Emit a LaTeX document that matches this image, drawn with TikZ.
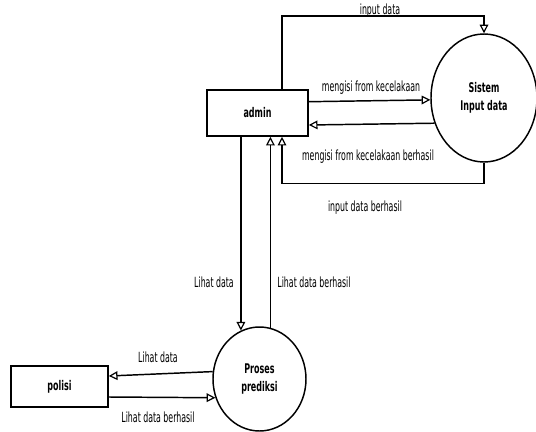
\documentclass[tikz,border=0pt]{standalone}
\usepackage{fontspec}
\setmainfont{DejaVu Sans}[FakeStretch=0.56,BoldFeatures={FakeStretch=0.6}]
\usetikzlibrary{arrows.meta,shapes.geometric,calc}
\begin{document}
\begin{tikzpicture}[x=0.75pt,y=-0.75pt,
  arr/.style={draw,line width=1.1pt,-{Triangle[open,length=6.5pt,width=6.5pt,line width=0.9pt]}},
  ent/.style={draw,line width=1.2pt,rectangle,font=\bfseries\fontsize{10}{13.5}\selectfont,inner sep=0pt},
  proc/.style={draw,line width=1.1pt,ellipse,font=\bfseries\fontsize{10}{13.5}\selectfont,align=center,inner sep=0pt},
  lbl/.style={font=\fontsize{10.5}{12}\selectfont,inner sep=0pt}]
\useasboundingbox (0,0) rectangle (536,432);
\node[ent,minimum width=75.75pt,minimum height=34.5pt] (admin) at (257.5,113) {admin};
\node[ent,minimum width=72.75pt,minimum height=30.75pt] (pol) at (59.5,386.5) {polisi};
\node[proc,minimum width=79.5pt,minimum height=96pt] (sis) at (484,98) {Sistem\\Input data};
\node[proc,minimum width=69.75pt,minimum height=78pt] (pro) at (259.5,379) {Proses\\prediksi};
% top loop
\draw[arr] ($(admin.north)+(24.5,0)$) -- ++(0,-73) -| (sis.north);
% mengisi
\draw[arr] ($(admin.east)+(0,-11.3)$) -- (sis.182);
\draw[arr] (sis.207) -- ($(admin.east)+(0,12)$);
% bottom loop
\draw[arr] (sis.south) -- ++(0,21) -| ($(admin.south)+(24.5,0)$);
% vertical
\draw[arr] (pro.111 |- admin.south) -- (pro.111);
\draw[arr] (pro.78) -- (pro.78 |- admin.south);
% polisi
\draw[arr] (pro.171) -- ($(pol.east)+(0,-10.5)$);
\draw[arr] ($(pol.east)+(0,10.5)$) -- (pro.203.7);
% labels
\node[lbl] (l1) at (380,11) {input data};
\node[lbl] (l2) at (371,88) {mengisi from kecelakaan};
\node[lbl] (l3) at (368,157) {mengisi from kecelakaan berhasil};
\node[lbl] (l4) at (365,208) {input data berhasil};
\node[lbl] (l5) at (214,282) {Lihat data};
\node[lbl] (l6) at (314,282) {Lihat data berhasil};
\node[lbl] (l7) at (158,357) {Lihat data};
\node[lbl] (l8) at (158,417) {Lihat data berhasil};
\end{tikzpicture}
\end{document}
